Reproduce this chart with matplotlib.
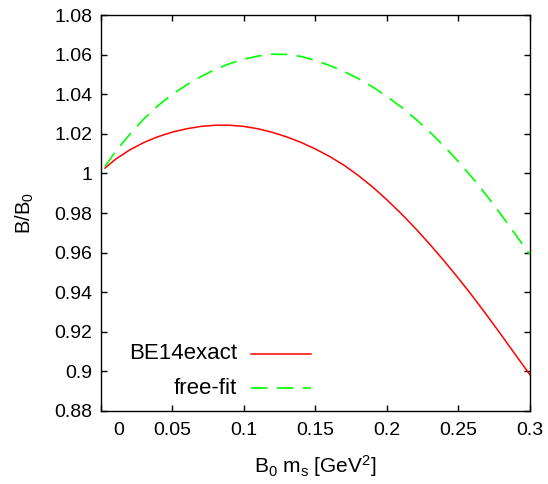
import matplotlib
matplotlib.use('Agg')
import matplotlib.pyplot as plt
import matplotlib.transforms as mtransforms

plt.rcParams['font.family'] = ['Liberation Sans', 'DejaVu Sans']
plt.rcParams['mathtext.default'] = 'regular'

# values
ms = [0.003, 0.01, 0.02, 0.03, 0.04, 0.05, 0.06, 0.07, 0.08, 0.09, 0.10,
      0.11, 0.12, 0.13, 0.14, 0.15, 0.16, 0.17, 0.18, 0.19, 0.20,
      0.21, 0.22, 0.23, 0.24, 0.25, 0.26, 0.27, 0.28, 0.29, 0.30]
be14exact = [1.0027, 1.0070, 1.0118, 1.0156, 1.0186, 1.0209, 1.0226, 1.0238, 1.0244, 1.0244, 1.0238,
             1.0226, 1.0208, 1.0185, 1.0157, 1.0124, 1.0086, 1.0042, 0.9990, 0.9932, 0.9867,
             0.9797, 0.9722, 0.9642, 0.9558, 0.9470, 0.9378, 0.9282, 0.9183, 0.9082, 0.8982]
free_fit = [1.0035, 1.0108, 1.0195, 1.0275, 1.0343, 1.0400, 1.0448, 1.0490, 1.0526, 1.0555, 1.0578,
            1.0594, 1.0603, 1.0602, 1.0592, 1.0572, 1.0546, 1.0516, 1.0480, 1.0438, 1.0390,
            1.0336, 1.0276, 1.0210, 1.0138, 1.0060, 0.9976, 0.9886, 0.9790, 0.9690, 0.9590]

xticks = [0, 0.05, 0.1, 0.15, 0.2, 0.25, 0.3]
xticklabels = ['0', '0.05', '0.1', '0.15', '0.2', '0.25', '0.3']
yticks = [0.88, 0.9, 0.92, 0.94, 0.96, 0.98, 1.0, 1.02, 1.04, 1.06, 1.08]
yticklabels = ['0.88', '0.9', '0.92', '0.94', '0.96', '0.98', '1', '1.02', '1.04', '1.06', '1.08']

fig = plt.figure(figsize=(5.48, 4.84), dpi=100)
ax = fig.add_axes([0.1838, 0.1514, 0.7832, 0.8170])

red, = ax.plot(ms, be14exact, color='#ff0000', lw=1.1)
green, = ax.plot(ms, free_fit, color='#00ff00', lw=1.2)
green.set_dashes([10, 5.5])

ax.set_xlim(0, 0.3)
ax.set_ylim(0.88, 1.08)
ax.set_xticks(xticks)
ax.set_xticklabels(xticklabels)
ax.set_yticks(yticks)
ax.set_yticklabels(yticklabels)
ax.tick_params(direction='in', length=4.5, width=1, labelsize=14,
               top=True, right=True, colors='black')
ax.tick_params(axis='x', pad=8)
ax.tick_params(axis='y', pad=6)
for s in ax.spines.values():
    s.set_linewidth(1.0)

# the "0" label sits a little right of the axis in the original
off = mtransforms.ScaledTranslation(0.175, 0, fig.dpi_scale_trans)
lab0 = ax.get_xticklabels()[0]
lab0.set_transform(lab0.get_transform() + off)

ax.set_xlabel('B$_0$ m$_s$ [GeV$^2$]', fontsize=15, labelpad=10)
ax.set_ylabel('B/B$_0$', fontsize=14.5, labelpad=13)

# gnuplot style key: right-aligned text, sample to the right
key = [('BE14exact', red, 0.144), ('free-fit', green, 0.057)]
for name, line, yk in key:
    ax.text(0.317, yk, name, transform=ax.transAxes, ha='right', va='center', fontsize=16)
    k, = ax.plot([0.350, 0.490], [yk, yk], transform=ax.transAxes,
                 color=line.get_color(), lw=line.get_linewidth())
    if line is green:
        k.set_dashes([10, 5.5])

plt.savefig('out.png', dpi=100)
